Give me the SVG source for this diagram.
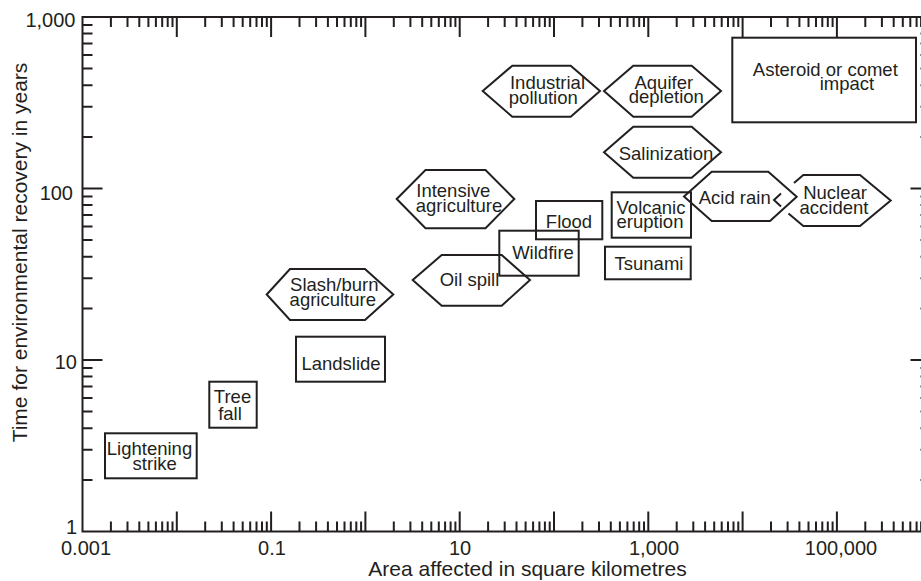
<svg xmlns="http://www.w3.org/2000/svg" width="921" height="581" viewBox="0 0 921 581">
<style>
.ax{fill:none;stroke:#231f20;stroke-width:2}
.tk{fill:none;stroke:#231f20;stroke-width:2}
.nd{fill:none;stroke:#231f20;stroke-width:2;stroke-linejoin:miter}
text{font-family:"Liberation Sans",Arial,Helvetica,sans-serif;fill:#231f20}
.lbl{font-size:20px}
.ttl{font-size:21px}
.nt{font-size:18.5px;text-anchor:middle}
</style>
<rect width="921" height="581" fill="#ffffff"/>
<g id="axes">
<path class="ax" d="M82.5,17 H935 M82.5,531.5 H935 M82.5,16 V532.5 M930.5,16 V532.5"/>
<path class="tk" d="M176.8,531.5v-20 M271.1,531.5v-20 M365.4,531.5v-20 M459.7,531.5v-20 M554,531.5v-20 M648.3,531.5v-20 M742.6,531.5v-20 M836.9,531.5v-20
M110.9,531.5v-10 M127.5,531.5v-10 M139.3,531.5v-10 M148.4,531.5v-10 M155.9,531.5v-10 M162.2,531.5v-10 M167.7,531.5v-10 M172.5,531.5v-10
M205.2,531.5v-10 M221.8,531.5v-10 M233.6,531.5v-10 M242.7,531.5v-10 M250.2,531.5v-10 M256.5,531.5v-10 M262,531.5v-10 M266.8,531.5v-10
M299.5,531.5v-10 M316.1,531.5v-10 M327.9,531.5v-10 M337,531.5v-10 M344.5,531.5v-10 M350.8,531.5v-10 M356.3,531.5v-10 M361.1,531.5v-10
M393.8,531.5v-10 M410.4,531.5v-10 M422.2,531.5v-10 M431.3,531.5v-10 M438.8,531.5v-10 M445.1,531.5v-10 M450.6,531.5v-10 M455.4,531.5v-10
M488.1,531.5v-10 M504.7,531.5v-10 M516.5,531.5v-10 M525.6,531.5v-10 M533.1,531.5v-10 M539.4,531.5v-10 M544.9,531.5v-10 M549.7,531.5v-10
M582.4,531.5v-10 M599,531.5v-10 M610.8,531.5v-10 M619.9,531.5v-10 M627.4,531.5v-10 M633.7,531.5v-10 M639.2,531.5v-10 M644,531.5v-10
M676.7,531.5v-10 M693.3,531.5v-10 M705.1,531.5v-10 M714.2,531.5v-10 M721.7,531.5v-10 M728,531.5v-10 M733.5,531.5v-10 M738.3,531.5v-10
M771,531.5v-10 M787.6,531.5v-10 M799.4,531.5v-10 M808.5,531.5v-10 M816,531.5v-10 M822.3,531.5v-10 M827.8,531.5v-10 M832.6,531.5v-10
M865.3,531.5v-10 M881.9,531.5v-10 M893.7,531.5v-10 M902.8,531.5v-10 M910.3,531.5v-10 M916.6,531.5v-10 M921.1,531.5v-10"/>
<path class="tk" d="M176.8,17v20 M271.1,17v20 M365.4,17v20 M459.7,17v20 M554,17v20 M648.3,17v20 M742.6,17v20 M836.9,17v20
M110.9,17v10 M127.5,17v10 M139.3,17v10 M148.4,17v10 M155.9,17v10 M162.2,17v10 M167.7,17v10 M172.5,17v10
M205.2,17v10 M221.8,17v10 M233.6,17v10 M242.7,17v10 M250.2,17v10 M256.5,17v10 M262,17v10 M266.8,17v10
M299.5,17v10 M316.1,17v10 M327.9,17v10 M337,17v10 M344.5,17v10 M350.8,17v10 M356.3,17v10 M361.1,17v10
M393.8,17v10 M410.4,17v10 M422.2,17v10 M431.3,17v10 M438.8,17v10 M445.1,17v10 M450.6,17v10 M455.4,17v10
M488.1,17v10 M504.7,17v10 M516.5,17v10 M525.6,17v10 M533.1,17v10 M539.4,17v10 M544.9,17v10 M549.7,17v10
M582.4,17v10 M599,17v10 M610.8,17v10 M619.9,17v10 M627.4,17v10 M633.7,17v10 M639.2,17v10 M644,17v10
M676.7,17v10 M693.3,17v10 M705.1,17v10 M714.2,17v10 M721.7,17v10 M728,17v10 M733.5,17v10 M738.3,17v10
M771,17v10 M787.6,17v10 M799.4,17v10 M808.5,17v10 M816,17v10 M822.3,17v10 M827.8,17v10 M832.6,17v10
M865.3,17v10 M881.9,17v10 M893.7,17v10 M902.8,17v10 M910.3,17v10 M916.6,17v10 M921.1,17v10"/>
<path class="tk" d="M82.5,360h20 M82.5,188.5h20
M82.5,479.9h10 M82.5,449.7h10 M82.5,428.3h10 M82.5,411.6h10 M82.5,398.1h10 M82.5,386.6h10 M82.5,376.6h10 M82.5,367.9h10
M82.5,308.4h10 M82.5,278.2h10 M82.5,256.8h10 M82.5,240.1h10 M82.5,226.6h10 M82.5,215.1h10 M82.5,205.1h10 M82.5,196.4h10
M82.5,136.9h10 M82.5,106.7h10 M82.5,85.3h10 M82.5,68.6h10 M82.5,55.1h10 M82.5,43.6h10 M82.5,33.6h10 M82.5,24.9h10"/>
<path class="tk" d="M930.5,360h-20 M930.5,188.5h-20
M930.5,479.9h-10 M930.5,449.7h-10 M930.5,428.3h-10 M930.5,411.6h-10 M930.5,398.1h-10 M930.5,386.6h-10 M930.5,376.6h-10 M930.5,367.9h-10
M930.5,308.4h-10 M930.5,278.2h-10 M930.5,256.8h-10 M930.5,240.1h-10 M930.5,226.6h-10 M930.5,215.1h-10 M930.5,205.1h-10 M930.5,196.4h-10
M930.5,136.9h-10 M930.5,106.7h-10 M930.5,85.3h-10 M930.5,68.6h-10 M930.5,55.1h-10 M930.5,43.6h-10 M930.5,33.6h-10 M930.5,24.9h-10"/>
<g class="lbl">
<text x="75.5" y="27" text-anchor="end">1,000</text>
<text x="73" y="199.5" text-anchor="end">100</text>
<text x="77" y="368.5" text-anchor="end">10</text>
<text x="77" y="533.5" text-anchor="end">1</text>
<text x="86" y="555" text-anchor="middle">0.001</text>
<text x="272" y="555" text-anchor="middle">0.1</text>
<text x="460" y="555" text-anchor="middle">10</text>
<text x="654" y="555" text-anchor="middle">1,000</text>
<text x="841" y="555" text-anchor="middle">100,000</text>
</g>
<text class="ttl" x="527.5" y="576" text-anchor="middle">Area affected in square kilometres</text>
<text class="ttl" transform="translate(26.5,252.5) rotate(-90)" text-anchor="middle">Time for environmental recovery in years</text>
</g>
<g id="connectors"/>
<g id="lightening-strike"><rect class="nd" x="105" y="433.3" width="91.7" height="45"/><text class="nt"><tspan x="149.5" y="455">Lightening</tspan><tspan x="154.7" y="470">strike</tspan></text></g>
<g id="tree-fall"><rect class="nd" x="209.3" y="381.7" width="47.4" height="46"/><text class="nt"><tspan x="232.5" y="403">Tree</tspan><tspan x="230" y="419.5">fall</tspan></text></g>
<g id="landslide"><rect class="nd" x="296" y="336.7" width="89" height="45"/><text class="nt" x="341" y="370">Landslide</text></g>
<g id="slash-burn"><polygon class="nd" points="266.7,294.5 290,269 365,269 393.3,294.5 365,320 290,320"/><text class="nt"><tspan x="334.3" y="291">Slash/burn</tspan><tspan x="332.8" y="306">agriculture</tspan></text></g>
<g id="oil-spill"><polygon class="nd" points="412.7,280 441.7,255 501.7,255 530,280 501.7,305.7 441.7,305.7"/><text class="nt" x="469.5" y="285.5">Oil spill</text></g>
<g id="intensive-agriculture"><polygon class="nd" points="396.7,199 425.5,170 485.5,170 514.3,199 485.5,228.3 425.5,228.3"/><text class="nt"><tspan x="453.3" y="197">Intensive</tspan><tspan x="459" y="212">agriculture</tspan></text></g>
<g id="wildfire"><rect class="nd" x="499.3" y="230.7" width="79.4" height="45"/><text class="nt" x="543" y="259">Wildfire</text></g>
<g id="flood"><rect class="nd" x="536" y="201" width="66.3" height="38.3"/><text class="nt" x="569" y="228">Flood</text></g>
<g id="volcanic-eruption"><rect class="nd" x="611.7" y="192.3" width="79.3" height="45.4"/><text class="nt"><tspan x="651" y="213.5">Volcanic</tspan><tspan x="650" y="228">eruption</tspan></text></g>
<g id="tsunami"><rect class="nd" x="605" y="246.7" width="85.7" height="32.6"/><text class="nt" x="649" y="270">Tsunami</text></g>
<g id="industrial-pollution"><polygon class="nd" points="482.7,91 512.3,65.7 570.7,65.7 600,91 570.7,116.7 512.3,116.7"/><text class="nt"><tspan x="547.5" y="88.5">Industrial</tspan><tspan x="543.3" y="103.5">pollution</tspan></text></g>
<g id="aquifer-depletion"><polygon class="nd" points="604,91 633.3,65.7 691.7,65.7 721,91 691.7,116.7 633.3,116.7"/><text class="nt"><tspan x="663.8" y="88.5">Aquifer</tspan><tspan x="666.3" y="103">depletion</tspan></text></g>
<g id="salinization"><polygon class="nd" points="604,152.3 633.3,126.7 691.7,126.7 721,152.3 691.7,177.7 633.3,177.7"/><text class="nt" x="666" y="160">Salinization</text></g>
<g id="asteroid-impact"><rect class="nd" x="732.3" y="37.7" width="183.7" height="84.6"/><text class="nt"><tspan x="825.3" y="76">Asteroid or comet</tspan><tspan x="847" y="89.5">impact</tspan></text></g>
<g id="acid-rain"><polygon class="nd" points="684,196.5 711.7,171.7 768.3,171.7 796.7,196.7 770,221 711.7,221"/><text class="nt" x="734.7" y="204">Acid rain</text></g>
<g id="nuclear-accident"><path class="nd" d="M794,183 L803.3,175 L860,175 L890.7,200.5 L860,226 L803.3,226 L788.5,213.5 M781,193.5 L774,200 L781,206.5"/><text class="nt"><tspan x="835" y="198.5">Nuclear</tspan><tspan x="834" y="213.5">accident</tspan></text></g>
</svg>
